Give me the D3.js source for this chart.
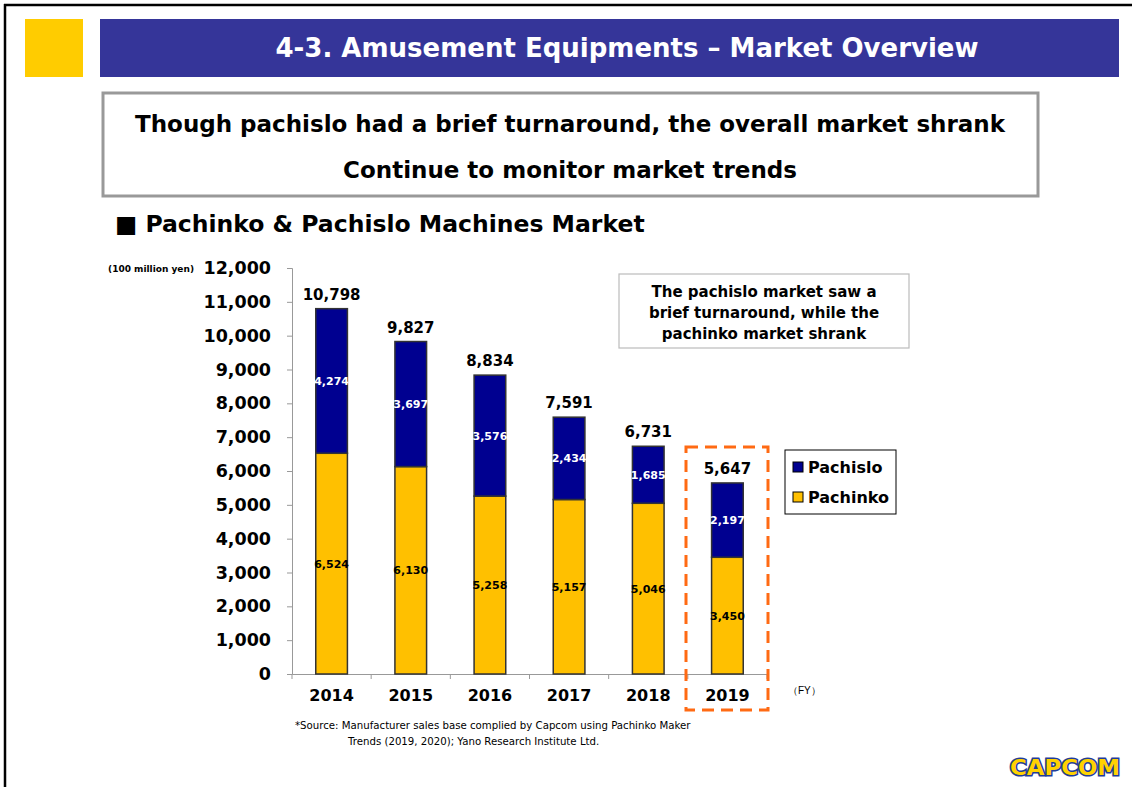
<!DOCTYPE html>
<html>
<head>
<meta charset="utf-8">
<script src="https://cdn.jsdelivr.net/npm/d3@7"></script>
<style>
  body { margin: 0; background: #fff; }
  svg { display: block; font-family: "DejaVu Sans", Verdana, sans-serif; }
</style>
</head>
<body>
<svg id="chart" width="1132" height="787"></svg>
<script>
const years = ["2014", "2015", "2016", "2017", "2018", "2019"];
const pachinko = [6524, 6130, 5258, 5157, 5046, 3450];
const pachislo = [4274, 3697, 3576, 2434, 1685, 2197];
const totals = [10798, 9827, 8834, 7591, 6731, 5647];
const yTicks = [0, 1000, 2000, 3000, 4000, 5000, 6000, 7000, 8000, 9000, 10000, 11000, 12000];

const svg = d3.select("#chart");
const fmt = d3.format(",");

// page frame
svg.append("line").attr("x1", 4).attr("x2", 1132).attr("y1", 5).attr("y2", 5)
	.attr("stroke", "#000").attr("stroke-width", 2.5);
svg.append("line").attr("x1", 5).attr("x2", 5).attr("y1", 4).attr("y2", 787)
	.attr("stroke", "#000").attr("stroke-width", 2.5);

// header
svg.append("rect").attr("x", 25).attr("y", 19).attr("width", 58).attr("height", 58).attr("fill", "#FFCC00");
svg.append("rect").attr("x", 100).attr("y", 19).attr("width", 1019).attr("height", 58).attr("fill", "#353599");
svg.append("text").attr("x", 627).attr("y", 57).attr("text-anchor", "middle")
	.attr("fill", "#fff").attr("font-size", 26).attr("font-weight", "bold")
	.text("4-3. Amusement Equipments – Market Overview");

// message box
svg.append("rect").attr("x", 103).attr("y", 93).attr("width", 935).attr("height", 103)
	.attr("fill", "#fff").attr("stroke", "#999").attr("stroke-width", 3);
svg.append("text").attr("x", 570).attr("y", 132).attr("text-anchor", "middle")
	.attr("font-size", 23).attr("font-weight", "bold")
	.text("Though pachislo had a brief turnaround, the overall market shrank");
svg.append("text").attr("x", 570).attr("y", 178).attr("text-anchor", "middle")
	.attr("font-size", 23).attr("font-weight", "bold")
	.text("Continue to monitor market trends");

svg.append("text").attr("x", 115).attr("y", 232)
	.attr("font-size", 23.5).attr("font-weight", "bold")
	.text("■  Pachinko & Pachislo Machines Market");

// chart
const x = d3.scaleBand().domain(years).range([292, 767]).paddingInner(0.6).paddingOuter(0.3);
const y = d3.scaleLinear().domain([0, 12000]).range([674, 268]);

const yAxis = svg.append("g").attr("transform", "translate(292,0)")
	.call(d3.axisLeft(y).tickValues(yTicks).tickSize(5).tickPadding(16).tickFormat(fmt));
yAxis.select(".domain").attr("stroke", "#999");
yAxis.selectAll(".tick line").attr("stroke", "#999");
yAxis.selectAll("text").attr("font-size", 17.5).attr("font-weight", "bold")
	.attr("font-family", "DejaVu Sans, sans-serif").attr("fill", "#000");

const band = d3.scaleBand().domain(years).range([292, 767]);
const xAxis = svg.append("g").attr("transform", "translate(0,674)")
	.call(d3.axisBottom(band).tickSize(0).tickPadding(16));
xAxis.select(".domain").attr("stroke", "#999");
xAxis.selectAll("text").attr("font-size", 16).attr("font-weight", "bold")
	.attr("font-family", "DejaVu Sans, sans-serif").attr("fill", "#000");
xAxis.selectAll(".sep").data(years.concat(["end"])).enter().append("line")
	.attr("x1", (d, i) => 292 + i * band.step()).attr("x2", (d, i) => 292 + i * band.step())
	.attr("y1", 0).attr("y2", 5).attr("stroke", "#999");

svg.append("text").attr("x", 194).attr("y", 272).attr("text-anchor", "end")
	.attr("font-size", 9).attr("font-weight", "bold").text("(100 million yen)");

const groups = svg.selectAll(".bar").data(years).enter().append("g").attr("class", "bar");

groups.append("rect")
	.attr("x", d => x(d)).attr("width", x.bandwidth())
	.attr("y", (d, i) => y(pachinko[i])).attr("height", (d, i) => y(0) - y(pachinko[i]))
	.attr("fill", "#FFC000").attr("stroke", "#333").attr("stroke-width", 1.5);

groups.append("rect")
	.attr("x", d => x(d)).attr("width", x.bandwidth())
	.attr("y", (d, i) => y(pachinko[i] + pachislo[i])).attr("height", (d, i) => y(pachinko[i]) - y(pachinko[i] + pachislo[i]))
	.attr("fill", "#000090").attr("stroke", "#333").attr("stroke-width", 1.5);

groups.append("text")
	.attr("x", d => x(d) + x.bandwidth() / 2).attr("y", (d, i) => y(pachinko[i] / 2) + 4)
	.attr("text-anchor", "middle").attr("font-size", 11).attr("font-weight", "bold")
	.text((d, i) => fmt(pachinko[i]));

groups.append("text")
	.attr("x", d => x(d) + x.bandwidth() / 2).attr("y", (d, i) => y(pachinko[i] + pachislo[i] / 2) + 4)
	.attr("text-anchor", "middle").attr("font-size", 11).attr("font-weight", "bold").attr("fill", "#fff")
	.text((d, i) => fmt(pachislo[i]));

groups.append("text")
	.attr("x", d => x(d) + x.bandwidth() / 2).attr("y", (d, i) => y(totals[i]) - 9)
	.attr("text-anchor", "middle").attr("font-size", 15).attr("font-weight", "bold")
	.text((d, i) => fmt(totals[i]));

// highlight for 2019
svg.append("rect").attr("x", 686).attr("y", 447).attr("width", 82).attr("height", 263)
	.attr("fill", "none").attr("stroke", "#FF6A13").attr("stroke-width", 3).attr("stroke-dasharray", "12,7");

svg.append("text").attr("x", 788).attr("y", 694).attr("font-size", 10).attr("font-family", "Arial, Liberation Sans, sans-serif")
	.text("（FY）");

// annotation
svg.append("rect").attr("x", 619).attr("y", 274).attr("width", 290).attr("height", 74)
	.attr("fill", "#fff").attr("stroke", "#bbb").attr("stroke-width", 1.2);
["The pachislo market saw a", "brief turnaround, while the", "pachinko market shrank"].forEach((t, i) => {
	svg.append("text").attr("x", 764).attr("y", 297 + i * 21).attr("text-anchor", "middle")
		.attr("font-size", 15).attr("font-weight", "bold").text(t);
});

// legend
svg.append("rect").attr("x", 785).attr("y", 450).attr("width", 111).attr("height", 64)
	.attr("fill", "#fff").attr("stroke", "#000").attr("stroke-width", 1);
const legend = [["Pachislo", "#000090"], ["Pachinko", "#FFC000"]];
legend.forEach((l, i) => {
	svg.append("rect").attr("x", 793).attr("y", 462 + i * 30).attr("width", 10).attr("height", 10)
		.attr("fill", l[1]).attr("stroke", "#000").attr("stroke-width", 1);
	svg.append("text").attr("x", 808).attr("y", 473 + i * 30)
		.attr("font-size", 16).attr("font-weight", "bold").text(l[0]);
});

// source note
svg.append("text").attr("x", 295).attr("y", 729).attr("font-size", 10.2)
	.text("*Source: Manufacturer sales base complied by Capcom using Pachinko Maker");
svg.append("text").attr("x", 348).attr("y", 745).attr("font-size", 10.2)
	.text("Trends (2019, 2020); Yano Research Institute Ltd.");

// logo
svg.append("text").attr("x", 1065).attr("y", 775).attr("text-anchor", "middle")
	.attr("font-size", 22).attr("font-weight", "bold").attr("font-family", "DejaVu Sans, sans-serif")
	.attr("fill", "#FFD200").attr("stroke", "#1f3c99").attr("stroke-width", 3)
	.attr("paint-order", "stroke").attr("textLength", 110).attr("lengthAdjust", "spacingAndGlyphs")
	.text("CAPCOM");
</script>
</body>
</html>
